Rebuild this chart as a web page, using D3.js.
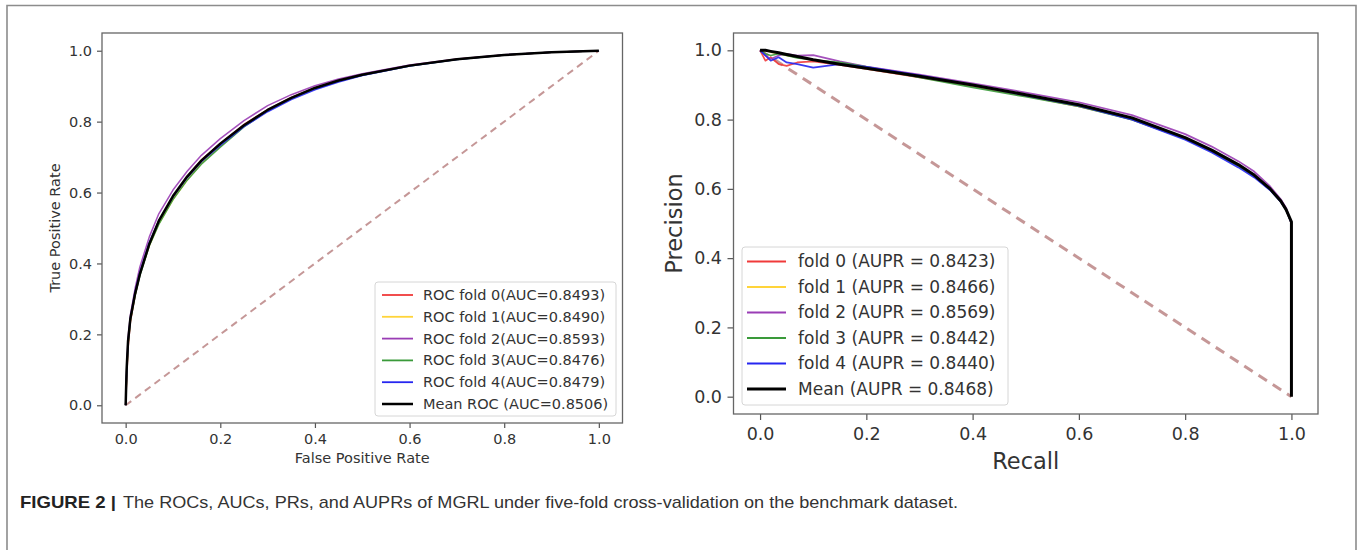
<!DOCTYPE html>
<html>
<head>
<meta charset="utf-8">
<script src="https://cdn.jsdelivr.net/npm/d3@7"></script>
<style>
  html, body { margin: 0; padding: 0; background: #fff; }
  svg { display: block; }
</style>
</head>
<body>
<svg id="chart" width="1365" height="550"></svg>
<script>
// ---------------- DATA ----------------
const foldNames = ["fold 0", "fold 1", "fold 2", "fold 3", "fold 4"];
const foldColors = ["#f03a3a", "#ffd43a", "#9a3db5", "#3a9a3a", "#2626f0"];
const rocLegendLabels = [
  "ROC fold 0(AUC=0.8493)", "ROC fold 1(AUC=0.8490)", "ROC fold 2(AUC=0.8593)",
  "ROC fold 3(AUC=0.8476)", "ROC fold 4(AUC=0.8479)", "Mean ROC (AUC=0.8506)"
];
const prLegendLabels = [
  "fold 0 (AUPR = 0.8423)", "fold 1 (AUPR = 0.8466)", "fold 2 (AUPR = 0.8569)",
  "fold 3 (AUPR = 0.8442)", "fold 4 (AUPR = 0.8440)", "Mean (AUPR = 0.8468)"
];
const tickValues = [0, 0.2, 0.4, 0.6, 0.8, 1.0];

// ROC: false positive rate grid and true positive rates per fold
const rocFpr = [0, 0.002, 0.005, 0.01, 0.02, 0.03, 0.05, 0.07, 0.1, 0.13, 0.16, 0.2, 0.25, 0.3, 0.35, 0.4, 0.45, 0.5, 0.6, 0.7, 0.8, 0.9, 1.0];
const rocTprFold0 = [0, 0.07, 0.16, 0.235, 0.31, 0.37, 0.455, 0.515, 0.585, 0.645, 0.692, 0.738, 0.792, 0.834, 0.868, 0.896, 0.917, 0.933, 0.958, 0.976, 0.988, 0.996, 1];
const rocTprFold1 = [0, 0.08, 0.17, 0.24, 0.315, 0.37, 0.45, 0.512, 0.58, 0.635, 0.682, 0.73, 0.787, 0.831, 0.866, 0.894, 0.915, 0.932, 0.958, 0.976, 0.988, 0.996, 1];
const rocTprFold2 = [0, 0.09, 0.19, 0.255, 0.33, 0.39, 0.475, 0.54, 0.607, 0.66, 0.705, 0.752, 0.803, 0.845, 0.876, 0.901, 0.92, 0.935, 0.96, 0.977, 0.989, 0.996, 1];
const rocTprFold3 = [0, 0.08, 0.17, 0.24, 0.31, 0.365, 0.45, 0.51, 0.58, 0.635, 0.68, 0.728, 0.785, 0.83, 0.865, 0.893, 0.914, 0.931, 0.957, 0.975, 0.988, 0.996, 1];
const rocTprFold4 = [0, 0.09, 0.175, 0.245, 0.32, 0.375, 0.46, 0.52, 0.588, 0.642, 0.687, 0.733, 0.786, 0.828, 0.862, 0.89, 0.912, 0.93, 0.957, 0.975, 0.988, 0.996, 1];
const rocTprMean  = [0, 0.1, 0.18, 0.245, 0.315, 0.37, 0.455, 0.52, 0.59, 0.645, 0.69, 0.738, 0.79, 0.833, 0.867, 0.895, 0.916, 0.932, 0.958, 0.976, 0.988, 0.996, 1.0];

// PR: recall grid and precision per fold
const prRecall = [0, 0.01, 0.02, 0.035, 0.05, 0.07, 0.1, 0.15, 0.2, 0.3, 0.4, 0.5, 0.6, 0.7, 0.8, 0.85, 0.9, 0.93, 0.96, 0.98, 0.99, 1.0];
const prPrecFold0 = [1.0, 0.97, 0.98, 0.96, 0.955, 0.965, 0.968, 0.958, 0.946, 0.922, 0.897, 0.868, 0.838, 0.802, 0.747, 0.711, 0.669, 0.64, 0.6, 0.565, 0.54, 0.5];
const prPrecFold1 = [1.0, 1.0, 0.995, 0.99, 0.985, 0.98, 0.972, 0.96, 0.947, 0.924, 0.898, 0.87, 0.842, 0.8, 0.745, 0.71, 0.668, 0.638, 0.598, 0.564, 0.54, 0.5];
const prPrecFold2 = [1.0, 0.985, 0.975, 0.985, 0.99, 0.985, 0.986, 0.968, 0.953, 0.93, 0.905, 0.878, 0.85, 0.813, 0.758, 0.722, 0.68, 0.65, 0.607, 0.57, 0.545, 0.5];
const prPrecFold3 = [1.0, 0.99, 0.985, 0.99, 0.985, 0.978, 0.972, 0.965, 0.952, 0.922, 0.893, 0.866, 0.838, 0.8, 0.745, 0.708, 0.666, 0.636, 0.597, 0.563, 0.54, 0.5];
const prPrecFold4 = [1.0, 0.985, 0.97, 0.98, 0.965, 0.96, 0.95, 0.96, 0.952, 0.928, 0.9, 0.87, 0.84, 0.8, 0.742, 0.705, 0.662, 0.633, 0.596, 0.562, 0.54, 0.5];
const prRecallMean = [0, 0.01, 0.02, 0.035, 0.05, 0.07, 0.1, 0.15, 0.2, 0.3, 0.4, 0.5, 0.6, 0.7, 0.8, 0.85, 0.9, 0.93, 0.96, 0.98, 0.99, 1.0, 1.0];
const prPrecMean   = [1.0, 1.0, 0.997, 0.993, 0.988, 0.982, 0.973, 0.96, 0.948, 0.925, 0.9, 0.872, 0.843, 0.805, 0.748, 0.712, 0.67, 0.64, 0.6, 0.565, 0.54, 0.505, 0.0];

const captionBold = "FIGURE 2 |";
const captionText = "The ROCs, AUCs, PRs, and AUPRs of MGRL under five-fold cross-validation on the benchmark dataset.";

// ---------------- DRAW ----------------
const svg = d3.select("#chart");
const FONT = "'DejaVu Sans', sans-serif";

// outer frame
svg.append("path")
  .attr("d", "M7,560 L7,5.5 L1356,5.5 L1356,560")
  .attr("fill", "none").attr("stroke", "#8c8c8c").attr("stroke-width", 1.6);

function zip(xs, ys) { return xs.map((x, i) => [x, ys[i]]); }

function panel(cfg) {
  const x = d3.scaleLinear().domain([-0.05, 1.05]).range([cfg.left, cfg.right]);
  const y = d3.scaleLinear().domain([-0.05, 1.05]).range([cfg.bottom, cfg.top]);
  const g = svg.append("g");

  // axes
  const xa = g.append("g").attr("transform", `translate(0,${cfg.bottom})`)
    .call(d3.axisBottom(x).tickValues(tickValues).tickFormat(d3.format(".1f"))
      .tickSize(cfg.tickLen).tickSizeOuter(0).tickPadding(cfg.xPad));
  const ya = g.append("g").attr("transform", `translate(${cfg.left},0)`)
    .call(d3.axisLeft(y).tickValues(tickValues).tickFormat(d3.format(".1f"))
      .tickSize(cfg.tickLen).tickSizeOuter(0).tickPadding(cfg.yPad));
  [xa, ya].forEach(a => {
    a.select(".domain").remove();
    a.selectAll(".tick line").attr("stroke", "#555").attr("stroke-width", 1.2);
    a.selectAll(".tick text").attr("fill", "#333").style("font-family", FONT)
      .style("font-size", cfg.tickFont + "px");
  });

  // diagonal reference line
  g.append("path")
    .attr("d", d3.line().x(d => x(d[0])).y(d => y(d[1]))(cfg.diag))
    .attr("fill", "none").attr("stroke", "#bf8c8c").attr("stroke-width", cfg.diagW)
    .attr("stroke-dasharray", cfg.dash).attr("opacity", 0.9);

  const line = d3.line().x(d => x(d[0])).y(d => y(d[1]));
  cfg.series.forEach((s, i) => {
    g.append("path").attr("d", line(s))
      .attr("fill", "none").attr("stroke", foldColors[i])
      .attr("stroke-width", cfg.foldW).attr("stroke-linejoin", "round").attr("opacity", 0.9);
  });
  g.append("path").attr("d", line(cfg.mean))
    .attr("fill", "none").attr("stroke", "#000").attr("stroke-width", cfg.meanW)
    .attr("stroke-linejoin", "round");

  // spines
  g.append("rect")
    .attr("x", cfg.left).attr("y", cfg.top)
    .attr("width", cfg.right - cfg.left).attr("height", cfg.bottom - cfg.top)
    .attr("fill", "none").attr("stroke", "#666").attr("stroke-width", 1.3);

  // axis labels
  g.append("text").attr("x", (cfg.left + cfg.right) / 2).attr("y", cfg.xLabelY)
    .attr("text-anchor", "middle").attr("fill", "#333")
    .style("font-family", FONT).style("font-size", cfg.labelFont + "px").text(cfg.xLabel);
  g.append("text")
    .attr("transform", `translate(${cfg.yLabelX},${(cfg.top + cfg.bottom) / 2}) rotate(-90)`)
    .attr("dy", "0.35em").attr("text-anchor", "middle").attr("fill", "#333")
    .style("font-family", FONT).style("font-size", cfg.labelFont + "px").text(cfg.yLabel);

  // legend
  const L = cfg.legend;
  g.append("rect").attr("x", L.x0).attr("y", L.y0)
    .attr("width", L.x1 - L.x0).attr("height", L.y1 - L.y0).attr("rx", 3)
    .attr("fill", "#fff").attr("fill-opacity", 0.85).attr("stroke", "#d6d6d6").attr("stroke-width", 1);
  cfg.legendLabels.forEach((lab, i) => {
    const yy = L.row0 + i * L.step;
    g.append("line").attr("x1", L.lx0).attr("x2", L.lx1).attr("y1", yy).attr("y2", yy)
      .attr("stroke", i < 5 ? foldColors[i] : "#000")
      .attr("stroke-width", i < 5 ? cfg.foldW + 0.3 : cfg.meanW);
    g.append("text").attr("x", L.tx).attr("y", yy).attr("dy", "0.35em").attr("fill", "#333")
      .style("font-family", FONT).style("font-size", L.font + "px").text(lab);
  });
}

panel({
  left: 102, right: 622.5, top: 33, bottom: 423,
  tickLen: 5, xPad: 6, yPad: 5, tickFont: 14.5, labelFont: 14.5,
  xLabel: "False Positive Rate", yLabel: "True Positive Rate",
  xLabelY: 463, yLabelX: 55,
  diag: [[0, 0], [1, 1]], diagW: 2, dash: "7,5",
  foldW: 1.5, meanW: 2.5,
  series: [rocTprFold0, rocTprFold1, rocTprFold2, rocTprFold3, rocTprFold4].map(t => zip(rocFpr, t)),
  mean: zip(rocFpr, rocTprMean),
  legendLabels: rocLegendLabels,
  legend: { x0: 375, x1: 616, y0: 282, y1: 416, row0: 295, step: 21.8, lx0: 382, lx1: 413, tx: 423, font: 14.5 }
});

panel({
  left: 733.5, right: 1318, top: 33, bottom: 414,
  tickLen: 6, xPad: 8, yPad: 5.5, tickFont: 17.5, labelFont: 22.5,
  xLabel: "Recall", yLabel: "Precision",
  xLabelY: 469, yLabelX: 674,
  diag: [[0, 1], [1, 0]], diagW: 3, dash: "10,7",
  foldW: 1.7, meanW: 3,
  series: [prPrecFold0, prPrecFold1, prPrecFold2, prPrecFold3, prPrecFold4].map(p => zip(prRecall, p)),
  mean: zip(prRecallMean, prPrecMean),
  legendLabels: prLegendLabels,
  legend: { x0: 742, x1: 1008, y0: 247, y1: 405, row0: 261.5, step: 25.5, lx0: 747, lx1: 786, tx: 798, font: 17 }
});

// caption
svg.append("text").attr("x", 20).attr("y", 507.5)
  .attr("textLength", 96).attr("lengthAdjust", "spacingAndGlyphs")
  .attr("fill", "#222").style("font-family", "'Liberation Sans', Arial, sans-serif")
  .style("font-size", "17px").style("font-weight", "bold").text(captionBold);
svg.append("text").attr("x", 123).attr("y", 507.5)
  .attr("textLength", 835).attr("lengthAdjust", "spacingAndGlyphs")
  .attr("fill", "#333").style("font-family", "'Liberation Sans', Arial, sans-serif")
  .style("font-size", "17px").text(captionText);
</script>
</body>
</html>
